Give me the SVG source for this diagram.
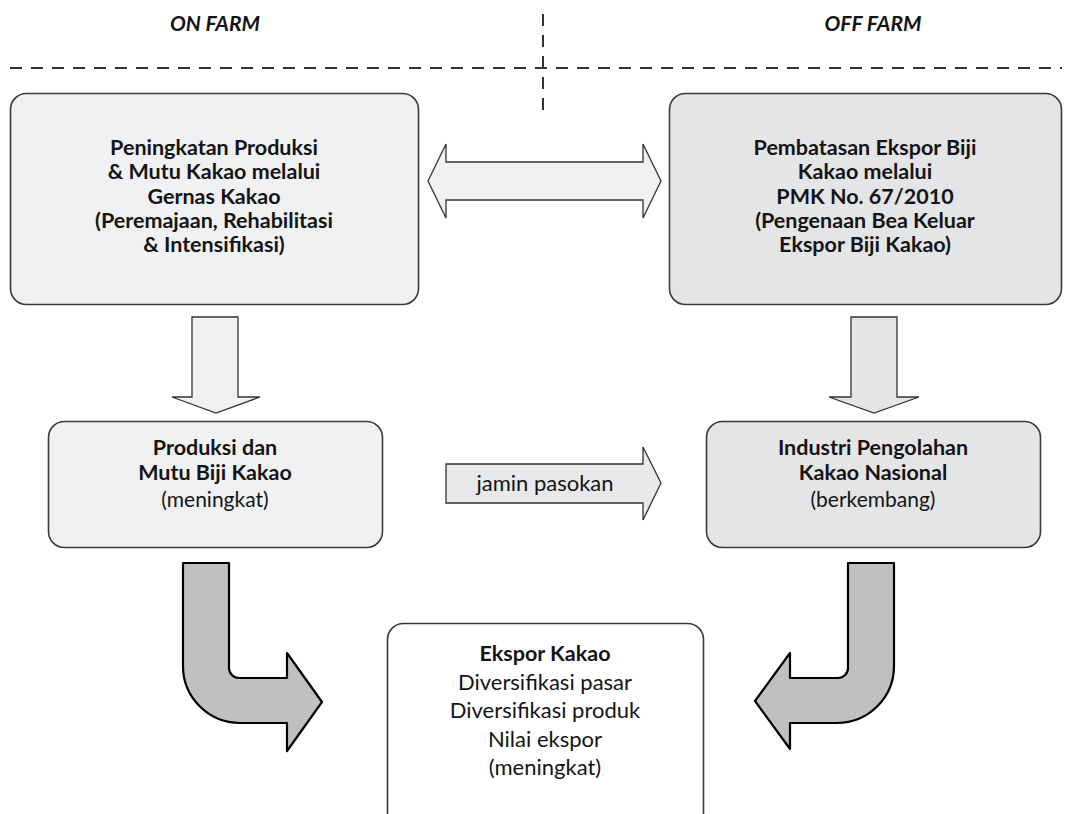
<svg xmlns="http://www.w3.org/2000/svg" width="1068" height="814" viewBox="0 0 1068 814">
<style>
.bx{stroke:#3a3a3a;stroke-width:1.6}
.l1{fill:#f0f1f3}
.l2{fill:#e4e5e7}
.ar{stroke:#333;stroke-width:1.3}
.bent{fill:#c0c0c0;stroke:#000;stroke-width:2.2;stroke-linejoin:round}
.dash{stroke:#333;stroke-width:2;stroke-dasharray:12 9;fill:none}
text{font-family:Lato,"Open Sans","Liberation Sans",sans-serif;fill:#141414;text-anchor:middle}
.b{font-weight:bold;font-size:21.5px}
.r{font-size:22px}
.rs{font-size:21px}
.h{font-weight:bold;font-style:italic;font-size:21px}
</style>
<rect width="1068" height="814" fill="#fff"/>
<g id="header">
<text class="h" x="215" y="31">ON FARM</text>
<text class="h" x="873" y="31">OFF FARM</text>
<line class="dash" x1="10" y1="68" x2="1062" y2="68"/>
<line class="dash" x1="543" y1="14" x2="543" y2="110"/>
</g>
<g id="connectors">
<polygon class="ar l1" points="428,181 446,144 446,162 643,162 643,144 661,181 643,218 643,200 446,200 446,218"/>
<polygon class="ar l1" points="192,317 238,317 238,397 260,397 216,413 172,397 192,397"/>
<polygon class="ar l2" points="851,317 897,317 897,397 919,397 874,413 829,397 851,397"/>
<polygon class="ar" fill="#e8e9eb" points="446,464 643,464 643,447 661,483 643,520 643,503 446,503"/>
<text class="r" x="545" y="491">jamin pasokan</text>
<path class="bent" d="M183 563 L229 563 L229 668 A10 10 0 0 0 239 678 L287 678 L287 653 L322 702 L287 751 L287 723 L240 723 A57 57 0 0 1 183 666 Z"/>
<path class="bent" d="M848 563 L894 563 L894 666 A57 57 0 0 1 837 723 L790 723 L790 749 L755 701 L790 653 L790 678 L838 678 A10 10 0 0 0 848 668 Z"/>
</g>
<g id="node-gernas">
<rect class="bx l1" x="10.5" y="93.5" width="408" height="211" rx="16"/>
<text class="b" x="214" y="155">Peningkatan Produksi</text>
<text class="b" x="214" y="179">&amp; Mutu Kakao melalui</text>
<text class="b" x="214" y="204">Gernas Kakao</text>
<text class="b" x="214" y="228">(Peremajaan, Rehabilitasi</text>
<text class="b" x="214" y="252">&amp; Intensifikasi)</text>
</g>
<g id="node-pmk">
<rect class="bx l2" x="669.5" y="93.5" width="392" height="211" rx="16"/>
<text class="b" x="865" y="155">Pembatasan Ekspor Biji</text>
<text class="b" x="865" y="179">Kakao melalui</text>
<text class="b" x="865" y="204">PMK No. 67/2010</text>
<text class="b" x="865" y="228">(Pengenaan Bea Keluar</text>
<text class="b" x="865" y="252">Ekspor Biji Kakao)</text>
</g>
<g id="node-produksi">
<rect class="bx l1" x="48.5" y="421.5" width="334" height="126" rx="16"/>
<text class="b" x="215" y="455">Produksi dan</text>
<text class="b" x="215" y="480">Mutu Biji Kakao</text>
<text class="rs" x="215" y="507">(meningkat)</text>
</g>
<g id="node-industri">
<rect class="bx l2" x="706.5" y="421.5" width="334" height="126" rx="16"/>
<text class="b" x="873" y="455">Industri Pengolahan</text>
<text class="b" x="873" y="480">Kakao Nasional</text>
<text class="rs" x="873" y="507">(berkembang)</text>
</g>
<g id="node-ekspor">
<rect class="bx" fill="#fff" x="387.5" y="623.5" width="316" height="220" rx="16" stroke-width="1.2"/>
<text class="b" x="545" y="661">Ekspor Kakao</text>
<text class="r" x="545" y="690">Diversifikasi pasar</text>
<text class="r" x="545" y="718">Diversifikasi produk</text>
<text class="r" x="545" y="747">Nilai ekspor</text>
<text class="r" x="545" y="775">(meningkat)</text>
</g>
</svg>
